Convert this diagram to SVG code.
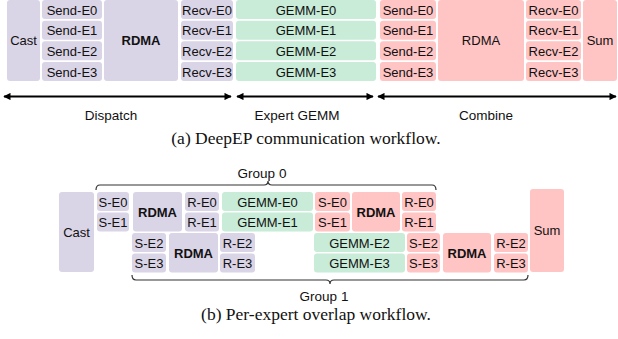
<svg xmlns="http://www.w3.org/2000/svg" width="618" height="339" viewBox="0 0 618 339">
  <style>
    .p { fill: #dad4e7; }
    .g { fill: #c8ecd8; }
    .r { fill: #ffc4c4; }
    text { font-family: "Liberation Sans", Arial, sans-serif; font-size: 13px; fill: #111; text-anchor: middle; }
    .bd { font-weight: bold; }
    .lbl { font-size: 13.5px; }
    .cap { font-family: "Liberation Serif", "Times New Roman", serif; font-size: 17.5px; }
    .arrow { stroke: #000; stroke-width: 1.8; fill: none; marker-start: url(#ah); marker-end: url(#ah); }
    .brace { stroke: #333; stroke-width: 1.2; fill: none; }
  </style>
  <defs>
    <marker id="ah" viewBox="0 0 10 10" refX="9" refY="5" markerWidth="4.4" markerHeight="4" orient="auto-start-reverse">
      <path d="M0,0 L10,5 L0,10 z" fill="#000"/>
    </marker>
  </defs>

  <!-- (a) DeepEP communication workflow -->
  <g id="a-cast"><rect class="p" x="7" y="0" width="33" height="81" rx="3"/><text x="23.5" y="45">Cast</text></g>
  <g id="a-send">
    <rect class="p" x="42" y="0" width="60" height="19" rx="3"/><text x="72" y="14.5">Send-E0</text>
    <rect class="p" x="42" y="20.7" width="60" height="19" rx="3"/><text x="72" y="35">Send-E1</text>
    <rect class="p" x="42" y="41.3" width="60" height="19" rx="3"/><text x="72" y="55.8">Send-E2</text>
    <rect class="p" x="42" y="62" width="60" height="19" rx="3"/><text x="72" y="76.5">Send-E3</text>
  </g>
  <g id="a-rdma1"><rect class="p" x="104" y="0" width="74" height="81" rx="3"/><text class="bd" x="141" y="45">RDMA</text></g>
  <g id="a-recv">
    <rect class="p" x="181" y="0" width="52" height="19" rx="3"/><text x="207" y="14.5">Recv-E0</text>
    <rect class="p" x="181" y="20.7" width="52" height="19" rx="3"/><text x="207" y="35">Recv-E1</text>
    <rect class="p" x="181" y="41.3" width="52" height="19" rx="3"/><text x="207" y="55.8">Recv-E2</text>
    <rect class="p" x="181" y="62" width="52" height="19" rx="3"/><text x="207" y="76.5">Recv-E3</text>
  </g>
  <g id="a-gemm">
    <rect class="g" x="236" y="0" width="140" height="19" rx="3"/><text x="306" y="14.5">GEMM-E0</text>
    <rect class="g" x="236" y="20.7" width="140" height="19" rx="3"/><text x="306" y="35">GEMM-E1</text>
    <rect class="g" x="236" y="41.3" width="140" height="19" rx="3"/><text x="306" y="55.8">GEMM-E2</text>
    <rect class="g" x="236" y="62" width="140" height="19" rx="3"/><text x="306" y="76.5">GEMM-E3</text>
  </g>
  <g id="a-send2">
    <rect class="r" x="380" y="0" width="56" height="19" rx="3"/><text x="408" y="14.5">Send-E0</text>
    <rect class="r" x="380" y="20.7" width="56" height="19" rx="3"/><text x="408" y="35">Send-E1</text>
    <rect class="r" x="380" y="41.3" width="56" height="19" rx="3"/><text x="408" y="55.8">Send-E2</text>
    <rect class="r" x="380" y="62" width="56" height="19" rx="3"/><text x="408" y="76.5">Send-E3</text>
  </g>
  <g id="a-rdma2"><rect class="r" x="438" y="0" width="86" height="81" rx="3"/><text x="481" y="45">RDMA</text></g>
  <g id="a-recv2">
    <rect class="r" x="526" y="0" width="55" height="19" rx="3"/><text x="553.5" y="14.5">Recv-E0</text>
    <rect class="r" x="526" y="20.7" width="55" height="19" rx="3"/><text x="553.5" y="35">Recv-E1</text>
    <rect class="r" x="526" y="41.3" width="55" height="19" rx="3"/><text x="553.5" y="55.8">Recv-E2</text>
    <rect class="r" x="526" y="62" width="55" height="19" rx="3"/><text x="553.5" y="76.5">Recv-E3</text>
  </g>
  <g id="a-sum"><rect class="r" x="583" y="0" width="34" height="81" rx="3"/><text x="600" y="45">Sum</text></g>

  <g id="phases">
    <line class="arrow" x1="4" y1="96.5" x2="231" y2="96.5"/>
    <line class="arrow" x1="237" y1="96.5" x2="373" y2="96.5"/>
    <line class="arrow" x1="378" y1="96.5" x2="616" y2="96.5"/>
    <text class="lbl" x="111" y="119.5">Dispatch</text>
    <text class="lbl" x="297" y="119.5">Expert GEMM</text>
    <text class="lbl" x="486" y="119.5">Combine</text>
  </g>
  <text class="cap" x="306" y="144">(a)  DeepEP communication workflow.</text>

  <!-- (b) Per-expert overlap workflow -->
  <g id="b-cast"><rect class="p" x="59" y="192" width="35" height="80" rx="3"/><text x="76.5" y="236.5">Cast</text></g>
  <g id="b-g0-send">
    <rect class="p" x="97" y="192" width="32" height="19" rx="3"/><text x="113" y="206.5">S-E0</text>
    <rect class="p" x="97" y="212.5" width="32" height="19" rx="3"/><text x="113" y="227">S-E1</text>
  </g>
  <g id="b-g0-rdma1"><rect class="p" x="133" y="192" width="49" height="39.5" rx="3"/><text class="bd" x="157.5" y="216.5">RDMA</text></g>
  <g id="b-g0-recv">
    <rect class="p" x="185" y="192" width="34" height="19" rx="3"/><text x="202" y="206.5">R-E0</text>
    <rect class="p" x="185" y="212.5" width="34" height="19" rx="3"/><text x="202" y="227">R-E1</text>
  </g>
  <g id="b-g0-gemm">
    <rect class="g" x="222" y="192" width="91" height="19" rx="3"/><text x="267.5" y="206.5">GEMM-E0</text>
    <rect class="g" x="222" y="212.5" width="91" height="19" rx="3"/><text x="267.5" y="227">GEMM-E1</text>
  </g>
  <g id="b-g0-send2">
    <rect class="r" x="315" y="192" width="35" height="19" rx="3"/><text x="332.5" y="206.5">S-E0</text>
    <rect class="r" x="315" y="212.5" width="35" height="19" rx="3"/><text x="332.5" y="227">S-E1</text>
  </g>
  <g id="b-g0-rdma2"><rect class="r" x="352" y="192" width="48" height="39.5" rx="3"/><text class="bd" x="376" y="216.5">RDMA</text></g>
  <g id="b-g0-recv2">
    <rect class="r" x="402" y="192" width="34" height="19" rx="3"/><text x="419" y="206.5">R-E0</text>
    <rect class="r" x="402" y="212.5" width="34" height="19" rx="3"/><text x="419" y="227">R-E1</text>
  </g>

  <g id="b-g1-send">
    <rect class="p" x="132" y="233" width="34" height="19" rx="3"/><text x="149" y="247.5">S-E2</text>
    <rect class="p" x="132" y="253.5" width="34" height="19" rx="3"/><text x="149" y="268">S-E3</text>
  </g>
  <g id="b-g1-rdma1"><rect class="p" x="169" y="233" width="49" height="39.5" rx="3"/><text class="bd" x="193.5" y="257.5">RDMA</text></g>
  <g id="b-g1-recv">
    <rect class="p" x="220" y="233" width="35" height="19" rx="3"/><text x="237.5" y="247.5">R-E2</text>
    <rect class="p" x="220" y="253.5" width="35" height="19" rx="3"/><text x="237.5" y="268">R-E3</text>
  </g>
  <g id="b-g1-gemm">
    <rect class="g" x="314" y="233" width="91" height="19" rx="3"/><text x="359.5" y="247.5">GEMM-E2</text>
    <rect class="g" x="314" y="253.5" width="91" height="19" rx="3"/><text x="359.5" y="268">GEMM-E3</text>
  </g>
  <g id="b-g1-send2">
    <rect class="r" x="407" y="233" width="33" height="19" rx="3"/><text x="423.5" y="247.5">S-E2</text>
    <rect class="r" x="407" y="253.5" width="33" height="19" rx="3"/><text x="423.5" y="268">S-E3</text>
  </g>
  <g id="b-g1-rdma2"><rect class="r" x="443" y="233" width="48" height="39.5" rx="3"/><text class="bd" x="467" y="257.5">RDMA</text></g>
  <g id="b-g1-recv2">
    <rect class="r" x="494" y="233" width="34" height="19" rx="3"/><text x="511" y="247.5">R-E2</text>
    <rect class="r" x="494" y="253.5" width="34" height="19" rx="3"/><text x="511" y="268">R-E3</text>
  </g>
  <g id="b-sum"><rect class="r" x="530" y="189" width="34" height="83" rx="3"/><text x="547" y="235">Sum</text></g>

  <g id="groups">
    <path class="brace" d="M96,190 Q96,185 100,185 L264,185 Q268,185 268,181 Q268,185 272,185 L432,185 Q436,185 436,190"/>
    <text class="lbl" x="262" y="178">Group 0</text>
    <path class="brace" d="M132,275 Q132,280 136,280 L326,280 Q330,280 330,284 Q330,280 334,280 L524,280 Q528,280 528,275"/>
    <text class="lbl" x="324" y="300.5">Group 1</text>
  </g>
  <text class="cap" x="316" y="320">(b)  Per-expert overlap workflow.</text>
</svg>
